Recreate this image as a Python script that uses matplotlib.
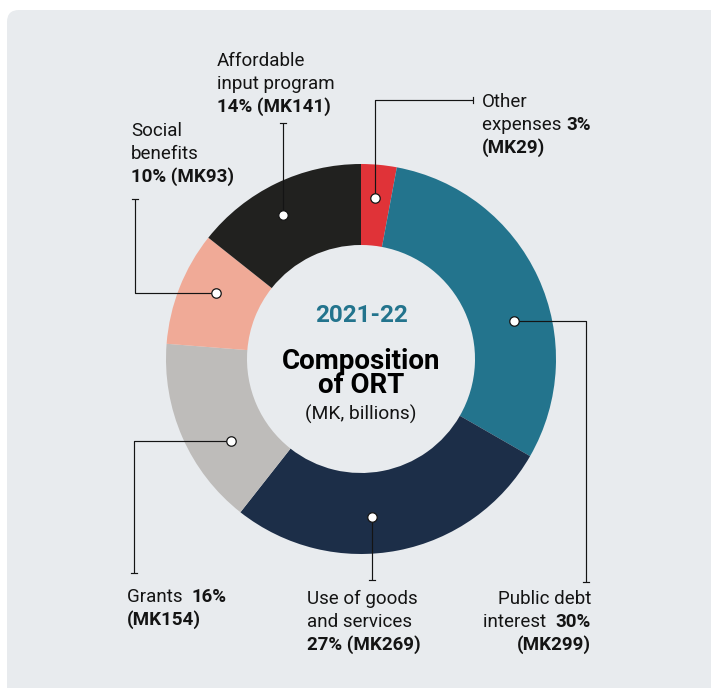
import math
import matplotlib
matplotlib.use("Agg")
import matplotlib.pyplot as plt
from matplotlib.patches import FancyBboxPatch

# ORT composition, 2021-22 (MK, billions), clockwise from the top
categories = ["Other expenses", "Public debt interest", "Use of goods and services",
              "Grants", "Social benefits", "Affordable input program"]
values = [29, 299, 269, 154, 93, 141]
shares = [3, 30, 27, 16, 10, 14]
colors = ["#e03338", "#23748d", "#1c2e48", "#bebcba", "#f0aa97", "#21211f"]

year_label = "2021-22"
title_text = "Composition\nof ORT"
unit_label = "(MK, billions)"

W, H = 711, 688
FAM = "Roboto"
FS = 13.5
INK = "#141414"
PANEL = "#e8ebee"

fig = plt.figure(figsize=(W / 100, H / 100), dpi=100)
fig.patch.set_facecolor("white")
ax = fig.add_axes([0, 0, 1, 1])


def Y(y):
    return H - y


# background panel with rounded corner
ax.add_patch(FancyBboxPatch((7, -30), W + 30, H - 10 + 30,
                            boxstyle="round,pad=0,rounding_size=12",
                            fc=PANEL, ec="none", zorder=0))

cx, cy, R, ring = 361, Y(359), 195, 81
ax.pie(values, colors=colors, startangle=90, counterclock=False,
       radius=R, center=(cx, cy),
       wedgeprops=dict(width=ring, linewidth=0, zorder=1))
ax.set_xlim(0, W)
ax.set_ylim(0, H)
ax.set_aspect("equal")
ax.axis("off")

rend = fig.canvas.get_renderer()


def seg_width(s, bold, fs=FS):
    t = ax.text(0, 0, "|" + s + "|", fontsize=fs, family=FAM,
                fontweight="bold" if bold else "normal")
    w = t.get_window_extent(rend).width
    t.remove()
    t = ax.text(0, 0, "||", fontsize=fs, family=FAM,
                fontweight="bold" if bold else "normal")
    w -= t.get_window_extent(rend).width
    t.remove()
    return w


def rich_label(x, baselines, lines, ha="left"):
    for yb, line in zip(baselines, lines):
        widths = [seg_width(s, b) for s, b in line]
        x0 = x - sum(widths) if ha == "right" else x
        for (s, b), w in zip(line, widths):
            ax.text(x0, Y(yb), s, fontsize=FS, family=FAM, color=INK,
                    fontweight="bold" if b else "normal",
                    ha="left", va="baseline", zorder=5)
            x0 += w


def pct(i):
    return f"{shares[i]}%"


def mk(i):
    return f"(MK{values[i]})"


# text blocks
rich_label(482, [107, 130, 153],
           [[("Other", False)],
            [("expenses ", False), (pct(0), True)],
            [(mk(0), True)]])
rich_label(591, [604, 627, 650],
           [[("Public debt", False)],
            [("interest  ", False), (pct(1), True)],
            [(mk(1), True)]], ha="right")
rich_label(307, [604, 627, 650],
           [[("Use of goods", False)],
            [("and services", False)],
            [(pct(2) + " " + mk(2), True)]])
rich_label(127, [602, 625],
           [[("Grants  ", False), (pct(3), True)],
            [(mk(3), True)]])
rich_label(131, [136, 159, 182],
           [[("Social", False)],
            [("benefits", False)],
            [(pct(4) + " " + mk(4), True)]])
rich_label(217, [66, 89, 112],
           [[("Affordable", False)],
            [("input program", False)],
            [(pct(5) + " " + mk(5), True)]])

# leader lines: dot position within each slice (fraction of its sweep, radius)
dot_pos = [(0.46, 162), (0.60, 158), (0.57, 158), (0.35, 154), (0.59, 159), (0.45, 164)]
routes = [
    [("v", 100), ("h", 473)],
    [("h", 586), ("v", 582)],
    [("v", 580)],
    [("h", 134), ("v", 573)],
    [("h", 135), ("v", 199)],
    [("v", 123)],
]

total = sum(values)
cum = 0
for i, v in enumerate(values):
    a0 = 90 - 360 * cum / total
    a1 = a0 - 360 * v / total
    cum += v
    frac, r = dot_pos[i]
    ang = math.radians(a0 + frac * (a1 - a0))
    px, py = cx + r * math.cos(ang), cy + r * math.sin(ang)
    xs, ys = [px], [py]
    for kind, val in routes[i]:
        if kind == "v":
            xs.append(xs[-1]); ys.append(Y(val))
        else:
            xs.append(val); ys.append(ys[-1])
    ax.plot(xs, ys, color=INK, lw=0.85, solid_capstyle="butt", zorder=3)
    # small cap at the end of the leader
    ex, ey = xs[-1], ys[-1]
    if routes[i][-1][0] == "v":
        ax.plot([ex - 3, ex + 3], [ey, ey], color=INK, lw=0.85, zorder=3)
    else:
        ax.plot([ex, ex], [ey - 3, ey + 3], color=INK, lw=0.85, zorder=3)
    ax.plot([px], [py], marker="o", ms=6.8, mfc="white", mec=INK, mew=0.9, zorder=4)

# centre text
ax.text(cx, Y(322), year_label, ha="center", va="baseline", fontsize=17.5,
        family=FAM, fontweight="bold", color="#23748d")
ax.text(cx, Y(393), title_text, ha="center", va="baseline", ma="center",
        fontsize=20, linespacing=0.87,
        family=FAM, fontweight="bold", color="#000000")
ax.text(cx, Y(420), unit_label, ha="center", va="baseline", fontsize=13.8,
        family=FAM, color=INK)

fig.savefig("out.png", dpi=100, facecolor="white")
